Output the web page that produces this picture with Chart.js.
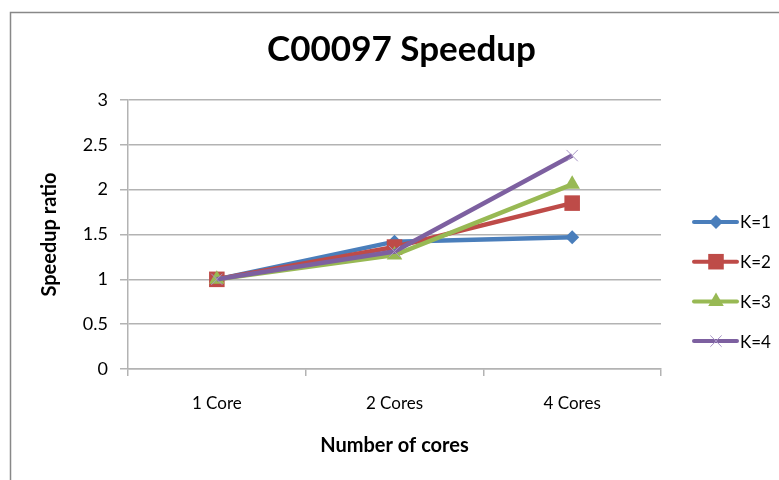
<!DOCTYPE html>
<html>
<head>
<meta charset="utf-8">
<script src="https://cdn.jsdelivr.net/npm/chart.js@4.4.1/dist/chart.umd.min.js"></script>
<style>
  html, body { margin: 0; padding: 0; background: #fff; }
  #wrap { width: 779px; height: 480px; position: relative; }
</style>
</head>
<body>
<div id="wrap"><canvas id="c" width="779" height="480"></canvas></div>
<script>
const categories = ["1 Core", "2 Cores", "4 Cores"];
const seriesNames = ["K=1", "K=2", "K=3", "K=4"];
const k1 = [1.0, 1.42, 1.47];
const k2 = [1.0, 1.36, 1.85];
const k3 = [1.0, 1.27, 2.06];
const k4 = [1.0, 1.31, 2.38];
const yTicks = [0, 0.5, 1, 1.5, 2, 2.5, 3];

const colors = ["#4A7EBB", "#BE4B48", "#98B954", "#7D60A0"];
const styles = ["rectRot", "rect", "triangle", "crossRot"];
const radii = [7, 11, 9, 8];
const values = [k1, k2, k3, k4];

const FONT = "Lato, Carlito, Calibri, 'Open Sans', sans-serif";

const frame = {
  id: 'frame',
  beforeDraw(chart) {
    const ctx = chart.ctx;
    ctx.save();
    ctx.fillStyle = '#fff';
    ctx.fillRect(0, 0, chart.width, chart.height);
    ctx.strokeStyle = '#888888';
    ctx.lineWidth = 1.5;
    ctx.beginPath();
    ctx.moveTo(10.5, chart.height + 2);
    ctx.lineTo(10.5, 12.5);
    ctx.lineTo(chart.width + 2, 12.5);
    ctx.stroke();
    ctx.restore();
  }
};

const sideLegend = {
  id: 'sideLegend',
  afterDraw(chart) {
    const ctx = chart.ctx;
    ctx.save();
    chart.data.datasets.forEach((ds, i) => {
      const y = 222 + i * 39.7;
      const cx = 716;
      ctx.strokeStyle = ds.borderColor;
      ctx.lineWidth = 4;
      ctx.lineCap = 'round';
      ctx.beginPath();
      ctx.moveTo(694, y);
      ctx.lineTo(737, y);
      ctx.stroke();
      ctx.fillStyle = ds.pointBackgroundColor;
      ctx.strokeStyle = ds.pointBorderColor;
      ctx.lineWidth = 1;
      ctx.lineCap = 'butt';
      ctx.beginPath();
      const r = ds.pointRadius;
      if (ds.pointStyle === 'rectRot') {
        ctx.moveTo(cx, y - r); ctx.lineTo(cx + r, y); ctx.lineTo(cx, y + r); ctx.lineTo(cx - r, y); ctx.closePath(); ctx.fill();
      } else if (ds.pointStyle === 'rect') {
        const s = r * Math.SQRT1_2; ctx.rect(cx - s, y - s, 2 * s, 2 * s); ctx.fill();
      } else if (ds.pointStyle === 'triangle') {
        ctx.moveTo(cx, y - r); ctx.lineTo(cx + r * 0.866, y + r / 2); ctx.lineTo(cx - r * 0.866, y + r / 2); ctx.closePath(); ctx.fill();
      } else {
        const s = r * Math.SQRT1_2;
        ctx.moveTo(cx - s, y - s); ctx.lineTo(cx + s, y + s);
        ctx.moveTo(cx + s, y - s); ctx.lineTo(cx - s, y + s);
        ctx.stroke();
      }
      ctx.fillStyle = '#000';
      ctx.font = "17px " + FONT;
      ctx.textAlign = 'left';
      ctx.textBaseline = 'middle';
      ctx.fillText(ds.label, 740, y + 1);
    });
    ctx.restore();
  }
};

const datasets = seriesNames.map((name, i) => ({
  label: name,
  data: values[i],
  borderColor: colors[i],
  backgroundColor: colors[i],
  pointBackgroundColor: colors[i],
  pointBorderColor: i === 3 ? "#A895C6" : colors[i],
  pointBorderWidth: i === 3 ? 1 : 0,
  pointStyle: styles[i],
  pointRadius: radii[i],
  pointHoverRadius: radii[i],
  borderWidth: 4.5,
  tension: 0,
  order: 3 - i,
  yAxisID: 'y'
}));

const GRID = '#b3b3b3';

new Chart(document.getElementById('c'), {
  type: 'line',
  data: { labels: categories, datasets },
  plugins: [frame, sideLegend],
  options: {
    responsive: false,
    animation: false,
    devicePixelRatio: 1,
    layout: { padding: { left: 24, right: 0, top: 0, bottom: 0 } },
    plugins: {
      legend: { display: false },
      tooltip: { enabled: false },
      title: {
        display: true,
        text: "C00097 Speedup",
        color: '#000',
        font: { family: FONT, size: 35, weight: 'bold', lineHeight: 1.2 },
        padding: { top: 29, bottom: 29 }
      }
    },
    scales: {
      x: {
        type: 'category',
        offset: true,
        grid: { display: true, drawOnChartArea: false, drawTicks: true, tickLength: 7, color: GRID, lineWidth: 1.5, offset: true },
        border: { display: true, color: GRID, width: 1.5 },
        ticks: { color: '#000', font: { family: FONT, size: 17 }, padding: 17, maxRotation: 0 },
        title: { display: true, text: "Number of cores", color: '#000', font: { family: FONT, size: 20, weight: 'bold' }, padding: { top: 0, bottom: 22 } },
        afterFit(s) { s.height = 111; }
      },
      y: {
        position: 'left',
        min: 0, max: 3,
        afterBuildTicks(s) { s.ticks = yTicks.map(v => ({ value: v })); },
        grid: { color: GRID, lineWidth: 1.5, tickLength: 8, drawTicks: true },
        border: { display: true, color: GRID, width: 1.5 },
        ticks: { color: '#000', font: { family: FONT, size: 18 }, padding: 12, callback: v => String(v) },
        title: { display: true, text: "Speedup ratio", color: '#000', font: { family: FONT, size: 20, weight: 'bold' }, padding: { top: 14, bottom: 0 } },
        afterFit(s) { s.width = 104; }
      },
      yRight: {
        position: 'right',
        min: 0, max: 3,
        display: true,
        grid: { display: false, drawTicks: false },
        border: { display: false },
        ticks: { display: false },
        afterFit(s) { s.width = 118; }
      }
    }
  }
});
</script>
</body>
</html>
